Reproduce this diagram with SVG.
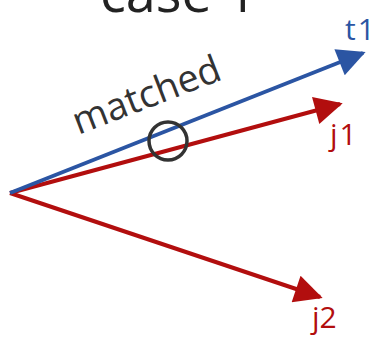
<svg xmlns="http://www.w3.org/2000/svg" width="377" height="342" viewBox="0 0 377 342">
<style>
text{font-family:"Open Sans","DejaVu Sans",sans-serif}
.blue{stroke:#2b55a3;stroke-width:4;fill:none}
.red{stroke:#b20e0e;stroke-width:4;fill:none}
.lb{fill:#2b55a3;font-size:30px}
.lr{fill:#b20e0e;font-size:30px}
</style>
<defs>
<marker id="ab" viewBox="0 0 10 10" refX="9" refY="5" markerWidth="9" markerHeight="7" markerUnits="strokeWidth" orient="auto"><path d="M0,0L10,5L0,10z" fill="#2b55a3"/></marker>
<marker id="ar" viewBox="0 0 10 10" refX="9" refY="5" markerWidth="9" markerHeight="7" markerUnits="strokeWidth" orient="auto"><path d="M0,0L10,5L0,10z" fill="#b20e0e"/></marker>
</defs>
<rect width="377" height="342" fill="#fff"/>
<g id="title"><text x="100" y="12" font-size="54" fill="#222">case 1</text></g>
<g id="connectors">
<line class="red" x1="10" y1="193" x2="340" y2="104" marker-end="url(#ar)"/>
<line class="red" x1="10" y1="193" x2="320" y2="297" marker-end="url(#ar)"/>
<line class="blue" x1="10" y1="193" x2="363" y2="53" marker-end="url(#ab)"/>
</g>
<g id="t1"><text class="lb" x="345" y="40" letter-spacing="2">t1</text></g>
<g id="j1"><text class="lr" x="330" y="145" letter-spacing="2">j1</text></g>
<g id="j2"><text class="lr" x="312" y="328">j2</text></g>
<g id="match"><circle cx="168" cy="141" r="19" fill="none" stroke="#333" stroke-width="3.5"/>
<text x="151" y="107" font-size="38" fill="#333" text-anchor="middle" transform="rotate(-21 151 107)">matched</text></g>
</svg>
